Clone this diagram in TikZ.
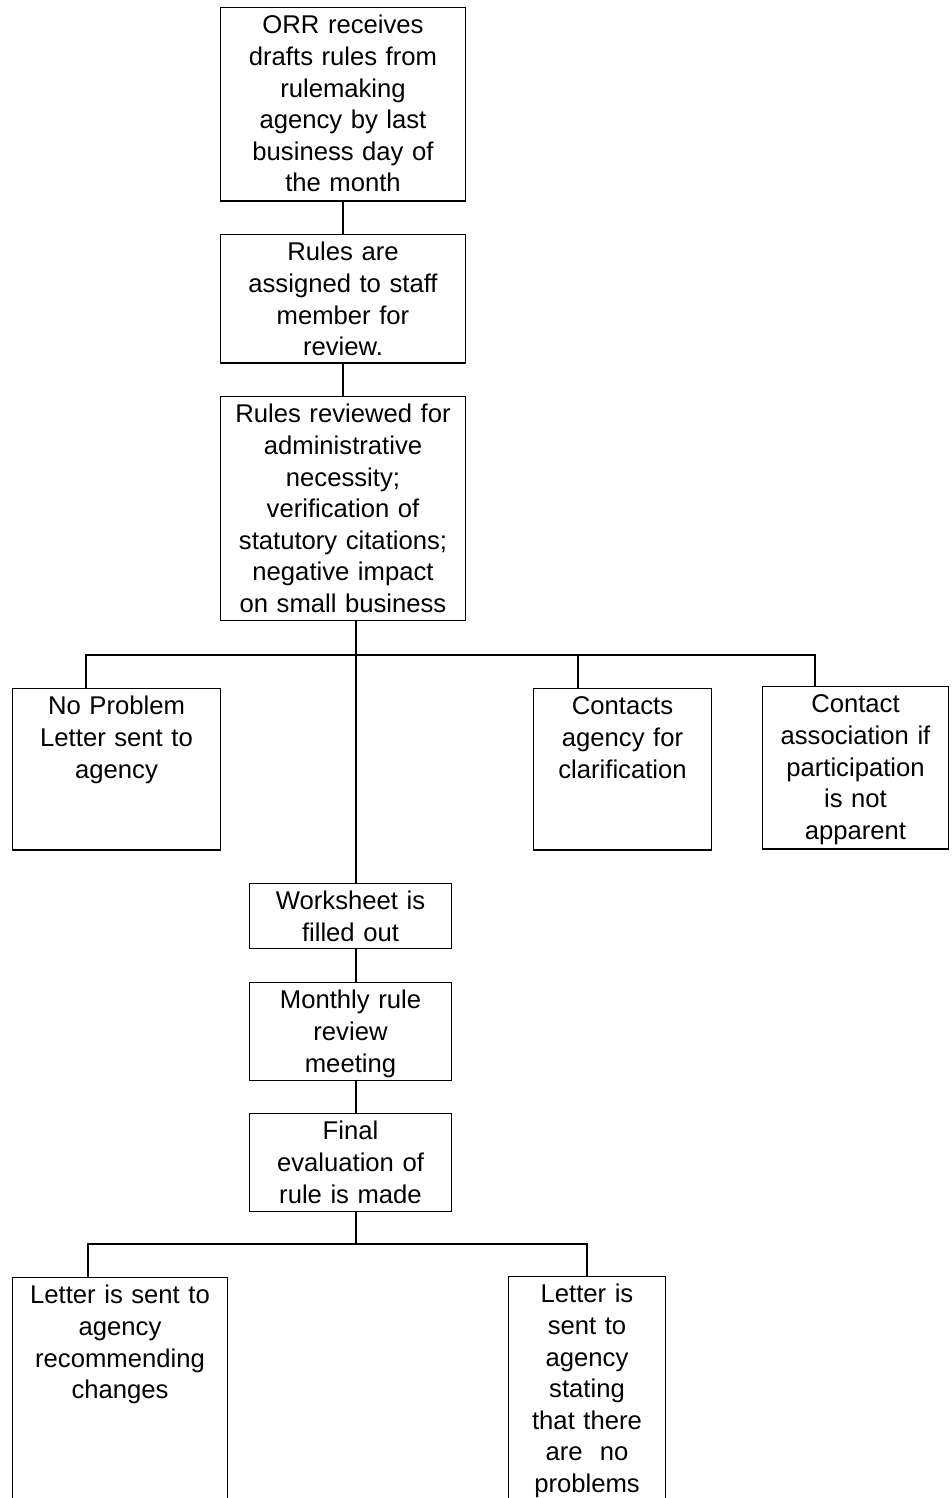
\documentclass[tikz,border=0pt]{standalone}
\usepackage{fontspec}
\setmainfont{Liberation Sans}
\begin{document}
\begin{tikzpicture}[x=0.02cm,y=-0.02cm,line width=0.7pt,
    box/.style={draw,anchor=north,align=center,inner xsep=2pt,inner ysep=4pt,
        text height=10.9pt,font=\fontsize{14.6}{18}\selectfont},
    wide/.style={box,text width=135.5pt},
    mid/.style={box,text width=111.1pt}]
    \useasboundingbox (0,0) rectangle (951,1498);
    % Main column %
    \node[wide,text depth=91.1pt] (orr) at (343,7) {ORR receives\\drafts rules from\\rulemaking\\agency by last\\business day of\\the month};
    \node[wide,text depth=54.2pt] (assign) at (343,234) {Rules are\\assigned to staff\\member for\\review.};
    \node[wide,text depth=108.7pt] (review) at (343,396) {Rules reviewed for\\administrative\\necessity;\\verification of\\statutory citations;\\negative impact\\on small business};

    % Branches %
    \node[box,text width=114.5pt,text depth=72.9pt] (nop) at (116.5,688) {No Problem\\Letter sent to\\agency};
    \node[box,text width=97.5pt,text depth=72.9pt] (contact) at (622.5,688) {Contacts\\agency for\\clarification};
    \node[box,text width=102pt,text depth=73.5pt] (assoc) at (855.5,686) {Contact\\association if\\participation\\is not\\apparent};

    \node[mid,text depth=17.9pt] (sheet) at (350.5,883) {Worksheet is\\filled out};
    \node[mid,text depth=36.7pt] (meet) at (350.5,982) {Monthly rule\\review\\meeting};
    \node[mid,text depth=36.7pt] (final) at (350.5,1113) {Final\\evaluation of\\rule is made};

    % Outcomes (run off the page) %
    \node[box,text width=118.5pt,text depth=118.9pt] (letter) at (120,1277) {Letter is sent to\\agency\\recommending\\changes};
    \node[box,text width=85.6pt,text depth=118.9pt] (noprob) at (587,1276) {Letter is\\sent to\\agency\\stating\\that there\\are\ \ no\\problems};

    % Connectors %
    \coordinate (spine) at (356,655);
    \coordinate (j1) at (86,655);
    \coordinate (j3) at (578,655);
    \coordinate (j4) at (815,655);
    \coordinate (k1) at (88,1244);
    \coordinate (k2) at (587,1244);
    \draw (orr) -- (assign);
    \draw (assign) -- (review);
    \draw (review.south -| spine) -- (sheet.north -| spine);
    \draw (j1 |- nop.north) -- (j1) -- (j4) -- (j4 |- assoc.north);
    \draw (j3) -- (j3 |- contact.north);
    \draw (sheet.south -| spine) -- (meet.north -| spine);
    \draw (meet.south -| spine) -- (final.north -| spine);
    \draw (final.south -| spine) -- (spine |- k1);
    \draw (k1 |- letter.north) -- (k1) -- (k2) -- (noprob.north);
\end{tikzpicture}
\end{document}
